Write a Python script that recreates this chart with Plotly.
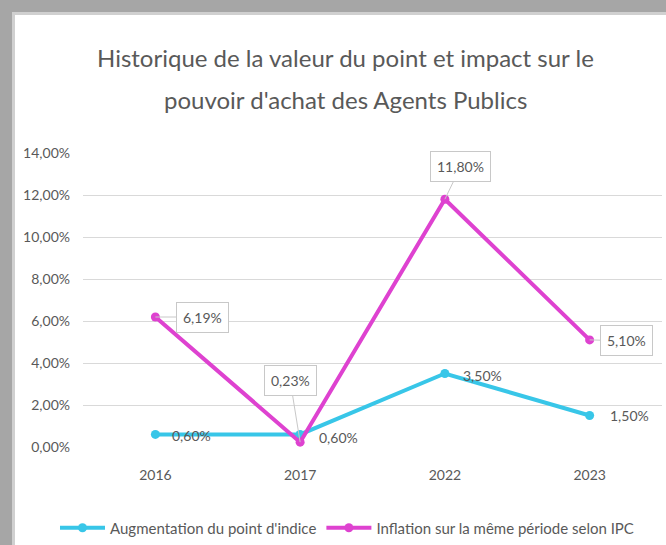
import plotly.graph_objects as go

years = ["2016", "2017", "2022", "2023"]
point_indice = [0.60, 0.60, 3.50, 1.50]
inflation = [6.19, 0.23, 11.80, 5.10]
tick_vals = [0, 2, 4, 6, 8, 10, 12, 14]
tick_text = ["0,00%", "2,00%", "4,00%", "6,00%", "8,00%", "10,00%", "12,00%", "14,00%"]
name_a = "Augmentation du point d'indice"
name_b = "Inflation sur la même période selon IPC"
title_lines = ["Historique de la valeur du point et impact sur le",
               "pouvoir d'achat des Agents Publics"]

W, H = 666, 545
ML, MR, MT, MB = 83, 4, 153, 98
PW, PH = W - ML - MR, H - MT - MB

def px(x):
    return (x - ML) / PW

def py(y):
    return (H - MB - y) / PH

def fmt(v):
    return f"{v:.2f}".replace(".", ",") + "%"

CYAN = "#38c6e8"
MAG = "#de42d0"
TXT = "#595959"
FONT = "Lato, sans-serif"

fig = go.Figure()
fig.add_trace(go.Scatter(x=years, y=point_indice, name=name_a, mode="lines+markers",
                         line=dict(color=CYAN, width=4), marker=dict(size=9, color=CYAN),
                         cliponaxis=False))
fig.add_trace(go.Scatter(x=years, y=inflation, name=name_b, mode="lines+markers",
                         line=dict(color=MAG, width=4), marker=dict(size=9, color=MAG),
                         cliponaxis=False))

ann = []
# magenta boxed labels
mag_off = [(47, 0), (-10, -62), (16, -33), (37, 1)]
for i, v in enumerate(inflation):
    ax, ay = mag_off[i]
    ann.append(dict(xref="x", yref="y", x=i, y=v, text=fmt(v), showarrow=True,
                    ax=ax, ay=ay, arrowhead=0, arrowwidth=1, arrowcolor="#c8c8c8",
                    bgcolor="white", bordercolor="#c8c8c8", borderwidth=1, borderpad=6,
                    font=dict(size=14, color=TXT, family=FONT)))
# cyan plain labels
cy_off = [(36, -1), (38, -3), (38, -2), (40, 0)]
for i, v in enumerate(point_indice):
    dx, dy = cy_off[i]
    ann.append(dict(xref="x", yref="y", x=i, y=v, text=fmt(v), showarrow=False,
                    xshift=dx, yshift=dy,
                    font=dict(size=14, color=TXT, family=FONT)))
# title lines
for t, yy in zip(title_lines, [57, 100]):
    ann.append(dict(xref="paper", yref="paper", x=px(345), y=py(yy), text=t,
                    showarrow=False, xanchor="center", yanchor="middle",
                    font=dict(size=24, color=TXT, family=FONT)))

shapes = [
    dict(type="rect", xref="paper", yref="paper", x0=px(0), x1=px(666), y0=py(0), y1=py(12),
         fillcolor="#a6a6a6", line=dict(width=0), layer="above"),
    dict(type="rect", xref="paper", yref="paper", x0=px(12), x1=px(666), y0=py(12), y1=py(15),
         fillcolor="#d0d0d0", line=dict(width=0), layer="above"),
    dict(type="rect", xref="paper", yref="paper", x0=px(0), x1=px(12), y0=py(0), y1=py(545),
         fillcolor="#a6a6a6", line=dict(width=0), layer="above"),
    dict(type="rect", xref="paper", yref="paper", x0=px(12), x1=px(15), y0=py(12), y1=py(545),
         fillcolor="#d0d0d0", line=dict(width=0), layer="above"),
]

fig.update_layout(
    width=W, height=H, margin=dict(l=ML, r=MR, t=MT, b=MB, autoexpand=False),
    paper_bgcolor="white", plot_bgcolor="white",
    font=dict(family=FONT, color=TXT, size=12),
    xaxis=dict(type="category", range=[-0.5, 3.5], showgrid=False, showline=False,
               ticks="", tickfont=dict(size=14, color=TXT), zeroline=False,
               automargin=False, ticklabelstandoff=18),
    yaxis=dict(range=[0, 14], tickvals=tick_vals, ticktext=tick_text, showgrid=True,
               gridcolor="#d9d9d9", gridwidth=1, zeroline=False, showline=False,
               tickfont=dict(size=14, color=TXT), ticklabelstandoff=12, automargin=False),
    showlegend=True,
    legend=dict(orientation="h", x=px(347), xanchor="center", y=py(528), yanchor="middle",
                font=dict(size=15, color=TXT), itemwidth=45, tracegroupgap=0),
    annotations=ann, shapes=shapes,
)

fig.write_html("out.html", config={"displayModeBar": False},
               post_script="document.body.style.margin='0';document.body.style.overflow='hidden';")
